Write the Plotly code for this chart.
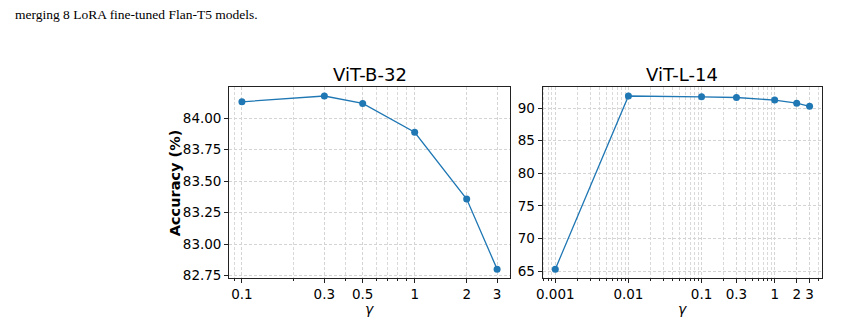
import plotly.graph_objects as go
import numpy as np

# ---- data ----
gamma_b32 = [0.1, 0.3, 0.5, 1, 2, 3]
acc_b32 = [84.13, 84.176, 84.117, 83.888, 83.358, 82.802]
gamma_l14 = [0.001, 0.01, 0.1, 0.3, 1, 2, 3]
acc_l14 = [65.3, 91.85, 91.72, 91.62, 91.22, 90.75, 90.27]
xticks_b32 = [0.1, 0.3, 0.5, 1, 2, 3]
xticks_l14 = [0.001, 0.01, 0.1, 0.3, 1, 2, 3]
titles = ["ViT-B-32", "ViT-L-14"]

W, H = 857, 326
BLUE = "#1f77b4"
FONT = "DejaVu Sans"


def px(x):
    return x / W


def py(y):
    return 1 - y / H


def minor_vals(lo_exp, hi_exp):
    vals = []
    for e in range(lo_exp, hi_exp + 1):
        for d in range(1, 10):
            vals.append(d * 10.0 ** e)
    return vals


fig = go.Figure()
fig.add_trace(go.Scatter(x=gamma_b32, y=acc_b32, mode="lines+markers",
                         line=dict(color=BLUE, width=1.3),
                         marker=dict(color=BLUE, size=7),
                         xaxis="x", yaxis="y", showlegend=False))
fig.add_trace(go.Scatter(x=gamma_l14, y=acc_l14, mode="lines+markers",
                         line=dict(color=BLUE, width=1.3),
                         marker=dict(color=BLUE, size=7),
                         xaxis="x2", yaxis="y2", showlegend=False))

ydom = [1 - 283 / H, 1 - 89 / H]
DASH = "3px,2px"
grid_common = dict(showgrid=True, gridcolor="#d4d4d4", griddash=DASH, gridwidth=0.8)
axis_common = dict(showline=True, mirror=True, linecolor="#222", linewidth=1,
                   ticks="outside", ticklen=4, tickwidth=1, tickcolor="#222",
                   tickfont=dict(family=FONT, size=13.5, color="black"),
                   zeroline=False, **grid_common)

def lrange(vals):
    lo, hi = np.log10(min(vals)), np.log10(max(vals))
    m = 0.05 * (hi - lo)
    return [lo - m, hi + m]

def yrange(vals):
    lo, hi = min(vals), max(vals)
    m = 0.05 * (hi - lo)
    return [lo - m, hi + m]

minor_common = dict(ticks="outside", ticklen=2.5, tickwidth=0.8, tickcolor="#222",
                    showgrid=True, gridcolor="#d9d9d9", griddash=DASH, gridwidth=0.8)

fig.update_layout(
    width=W, height=H,
    margin=dict(l=0, r=0, t=0, b=0),
    paper_bgcolor="white", plot_bgcolor="white",
    xaxis=dict(domain=[px(224), px(507)], type="log", range=lrange(gamma_b32),
               tickmode="array", tickvals=xticks_b32,
               ticktext=[str(v) for v in xticks_b32],
               minor=dict(tickmode="array", tickvals=minor_vals(-2, 0), **minor_common),
               anchor="y", **axis_common),
    yaxis=dict(domain=ydom, range=yrange(acc_b32), dtick=0.25, tick0=82.75,
               tickformat=".2f", anchor="x", **axis_common),
    xaxis2=dict(domain=[px(540), px(822)], type="log", range=lrange(gamma_l14),
                tickmode="array", tickvals=xticks_l14,
                ticktext=[str(v) for v in xticks_l14],
                minor=dict(tickmode="array", tickvals=minor_vals(-4, 0), **minor_common),
                anchor="y2", **axis_common),
    yaxis2=dict(domain=ydom, range=yrange(acc_l14), dtick=5, tick0=65,
                anchor="x2", **axis_common),
)

ann = []
centers = [px((224 + 507) / 2), px((540 + 822) / 2)]
for c, t in zip(centers, titles):
    ann.append(dict(x=c, y=py(76), xref="paper", yref="paper", text=t,
                    showarrow=False, font=dict(family=FONT, size=18, color="black"),
                    xanchor="center", yanchor="middle"))
    ann.append(dict(x=c, y=py(315), xref="paper", yref="paper", text="<i>γ</i>",
                    showarrow=False, font=dict(family=FONT, size=14, color="black"),
                    xanchor="center", yanchor="middle"))
ann.append(dict(x=px(169), y=py(186), xref="paper", yref="paper",
                text="<b>Accuracy (%)</b>", textangle=-90, showarrow=False,
                font=dict(family=FONT, size=14.5, color="black"),
                xanchor="center", yanchor="middle"))
ann.append(dict(x=px(6), y=py(15), xref="paper", yref="paper",
                text="merging 8 LoRA fine-tuned Flan-T5 models.", showarrow=False,
                font=dict(family="Liberation Serif", size=13.5, color="black"),
                xanchor="left", yanchor="middle"))
fig.update_layout(annotations=ann)

fig.write_html("out.html")
